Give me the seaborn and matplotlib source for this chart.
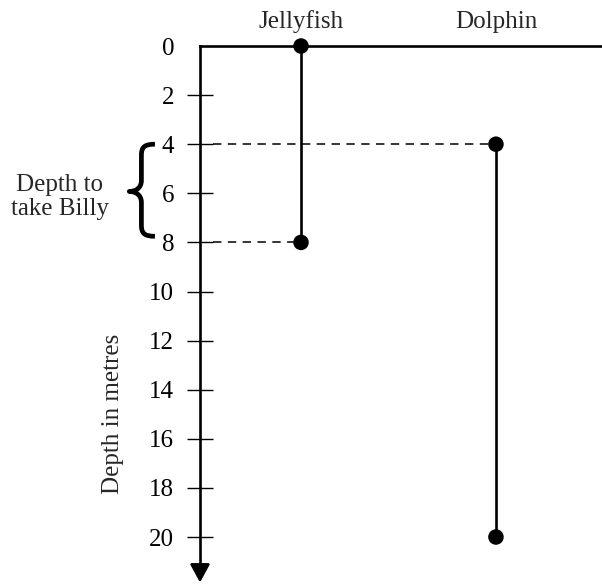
import matplotlib
matplotlib.use("Agg")
import matplotlib.pyplot as plt
from matplotlib.path import Path
from matplotlib.patches import PathPatch
import seaborn as sns
import pandas as pd

# Depth ranges (metres) for each animal
animals = ["Jellyfish", "Dolphin"]
depth_top = [0, 4]
depth_bottom = [8, 20]
tick_values = [0, 2, 4, 6, 8, 10, 12, 14, 16, 18, 20]
axis_label = "Depth in metres"
brace_label = "Depth to\ntake Billy"
billy_range = (4, 8)

# Horizontal placement of each animal's column
x_pos = {"Jellyfish": 1.0, "Dolphin": 2.93}

df = pd.DataFrame({
    "animal": animals * 2,
    "depth": depth_top + depth_bottom,
})
df["x"] = df["animal"].map(x_pos)

sns.set_style("white")
plt.rcParams["font.family"] = ["Liberation Serif", "DejaVu Serif"]
FS = 18

fig = plt.figure(figsize=(6.02, 5.85), dpi=100)
ax = fig.add_axes([0, 0, 1, 1])
ax.set_xlim(-1.98, 3.98)
ax.set_ylim(21.955, -1.874)

LW = 1.9

# Range lines and end points
sns.lineplot(data=df, x="x", y="depth", units="animal", estimator=None,
             sort=False, color="black", lw=LW, legend=False, ax=ax, zorder=3)
sns.scatterplot(data=df, x="x", y="depth", color="black", s=125,
                edgecolor="none", legend=False, ax=ax, zorder=4)

# Dashed guide lines from the axis to the Billy range limits
dash_kw = dict(color="black", lw=1.1, linestyle=(0, (5.5, 4.2)), zorder=2)
start_x = 0.13
dol = animals.index("Dolphin")
jel = animals.index("Jellyfish")
ax.plot([start_x, x_pos["Dolphin"]], [depth_top[dol]] * 2, **dash_kw)
ax.plot([start_x, x_pos["Jellyfish"]], [depth_bottom[jel]] * 2, **dash_kw)

# Top line at the surface
ax.plot([0, 3.98], [0, 0], color="black", lw=LW, solid_capstyle="projecting",
        zorder=3)

# Vertical depth axis through x = 0
for side in ["top", "right", "bottom"]:
    ax.spines[side].set_visible(False)
sp = ax.spines["left"]
sp.set_position(("data", 0))
sp.set_linewidth(LW)
sp.set_color("black")
sp.set_bounds(0, 21.4)
sp.set_capstyle("projecting")
ax.annotate("", xy=(0, 21.85), xytext=(0, 21.2),
            arrowprops=dict(arrowstyle="-|>,head_length=0.55,head_width=0.3",
                            color="black", lw=LW, mutation_scale=20,
                            shrinkA=0, shrinkB=0))

ax.set_yticks(tick_values)
ax.set_yticklabels([str(v) for v in tick_values])
ax.tick_params(axis="y", direction="inout", length=19, width=1.0,
               labelsize=FS, pad=9, colors="black", left=True)
ax.yaxis.get_major_ticks()[0].tick1line.set_visible(False)
ax.set_xticks([])
ax.set_xlabel("")

ax.set_ylabel(axis_label, fontsize=FS)
ax.yaxis.set_label_coords(124 / 602, 1 - 414 / 585)

# Column titles
for name in animals:
    ax.text(x_pos[name], -0.73, name, ha="center", va="baseline", fontsize=FS)

# Curly brace marking the range to take Billy
top, bottom = billy_range[0] - 0.0, billy_range[1] - 0.25
mid = (top + bottom) / 2 + 0.05
xe, xs, xt = -0.446, -0.58, -0.70
verts = [
    (xe, top),
    (xs + 0.03, top), (xs, top + 0.12), (xs, top + 0.45),
    (xs, mid - 0.45),
    (xs, mid - 0.1), (xt + 0.05, mid), (xt, mid),
    (xt + 0.05, mid), (xs, mid + 0.1), (xs, mid + 0.45),
    (xs, bottom - 0.45),
    (xs, bottom - 0.12), (xs + 0.03, bottom), (xe, bottom),
]
codes = [Path.MOVETO,
         Path.CURVE4, Path.CURVE4, Path.CURVE4,
         Path.LINETO,
         Path.CURVE4, Path.CURVE4, Path.CURVE4,
         Path.CURVE4, Path.CURVE4, Path.CURVE4,
         Path.LINETO,
         Path.CURVE4, Path.CURVE4, Path.CURVE4]
ax.add_patch(PathPatch(Path(verts, codes), fill=False, lw=3.4,
                       edgecolor="black", capstyle="butt", joinstyle="round"))
ax.text(-1.386, 6.15, brace_label, ha="center", va="center",
        fontsize=FS, linespacing=1.15)

fig.savefig("out.png", dpi=100)
